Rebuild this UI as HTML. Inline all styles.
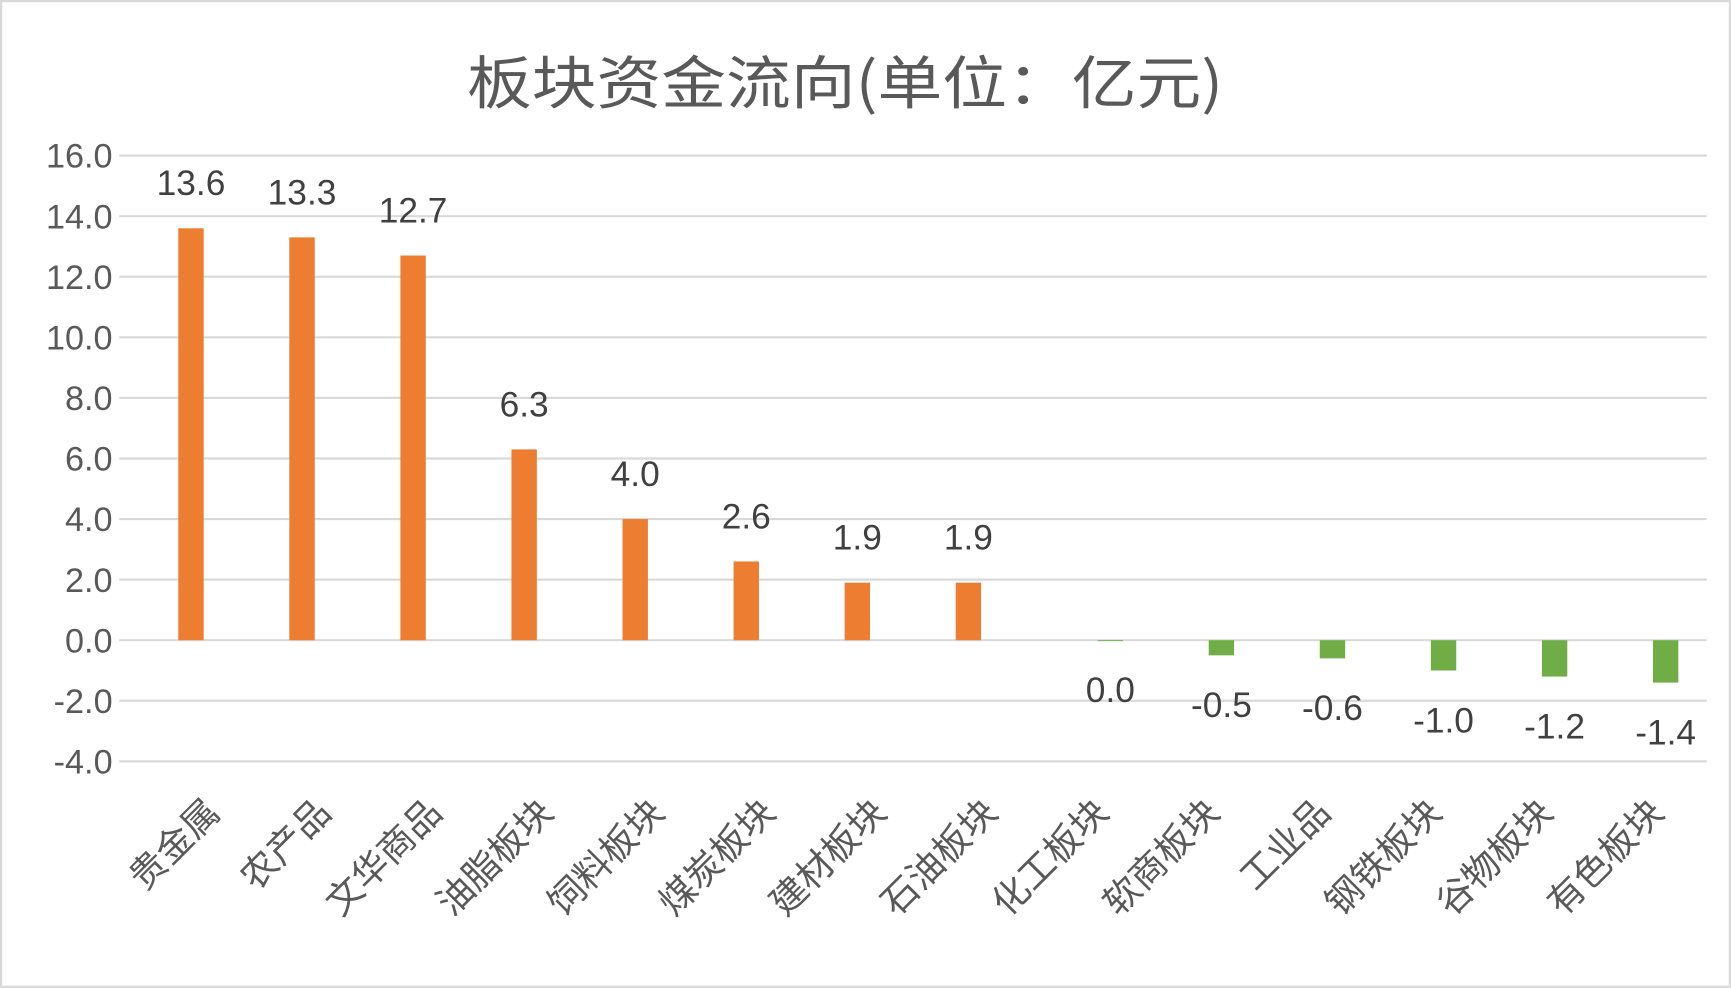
<!DOCTYPE html>
<html><head><meta charset="utf-8"><style>
html,body{margin:0;padding:0;background:#fff;}
svg{display:block;font-family:"Liberation Sans","Noto Sans CJK SC",sans-serif;}
</style></head><body>
<svg id="chart" width="1731" height="989" viewBox="0 0 1568 896" preserveAspectRatio="none" xmlns="http://www.w3.org/2000/svg">
<rect x="1" y="1" width="1566" height="893" fill="#fff" stroke="#d9d9d9" stroke-width="2"/>
<text x="423" y="94" textLength="685" lengthAdjust="spacingAndGlyphs" font-size="52" fill="#595959" font-family="'Noto Sans CJK SC',sans-serif">板块资金流向(单位：亿元)</text>
<g id="grid"></g><g id="bars"></g><g id="labels"></g>
</svg>
<script>
const categories=["贵金属","农产品","文华商品","油脂板块","饲料板块","煤炭板块","建材板块","石油板块","化工板块","软商板块","工业品","钢铁板块","谷物板块","有色板块"];
const values=[13.6,13.3,12.7,6.3,4.0,2.6,1.9,1.9,0.0,-0.5,-0.6,-1.0,-1.2,-1.4];
const valueLabels=["13.6","13.3","12.7","6.3","4.0","2.6","1.9","1.9","0.0","-0.5","-0.6","-1.0","-1.2","-1.4"];
const ticks=[16,14,12,10,8,6,4,2,0,-2,-4];
const tickLabels=["16.0","14.0","12.0","10.0","8.0","6.0","4.0","2.0","0.0","-2.0","-4.0"];
const NS="http://www.w3.org/2000/svg";
function y(v){return 580-v*27.44;}
function x(i){return 187+i*100.6;}
function mk(tag,attrs,parent){const e=document.createElementNS(NS,tag);for(const k in attrs)e.setAttribute(k,attrs[k]);parent.appendChild(e);return e;}
const grid=document.getElementById('grid'),bars=document.getElementById('bars'),labels=document.getElementById('labels');
ticks.forEach((t,i)=>{
 const l=mk('line',{x1:108,x2:1546,y1:y(t),y2:y(t),stroke:'#d9d9d9','stroke-width':2},grid);
 
 
 const tx=mk('text',{x:102,y:y(t)+11,'text-anchor':'end','font-size':31,fill:'#595959'},grid);
 
 
 tx.textContent=tickLabels[i];
});
values.forEach((v,i)=>{
 const bx=x(i)+(v>0?-14:14),top=Math.min(y(v),y(0)),h=Math.abs(y(v)-y(0));
 const r=mk('rect',{x:bx-11.5,y:top,width:23,height:Math.max(h,0.8),fill:v>0?'#ed7d31':'#70ad47'},bars);
 
 
 const ly=v>0?y(v)-30:y(v)+56;
 const t=mk('text',{x:bx,y:ly,'text-anchor':'middle','font-size':32,fill:'#404040'},labels);
 
 
 t.textContent=valueLabels[i];
 const c=mk('text',{x:0,y:0,'text-anchor':'end','font-size':33,fill:'#595959',transform:'translate('+(x(i)+14)+',738) rotate(-45)','font-family':"'Noto Sans CJK SC',sans-serif"},labels);
 
 
 c.textContent=categories[i];
});
</script>
</body></html>
